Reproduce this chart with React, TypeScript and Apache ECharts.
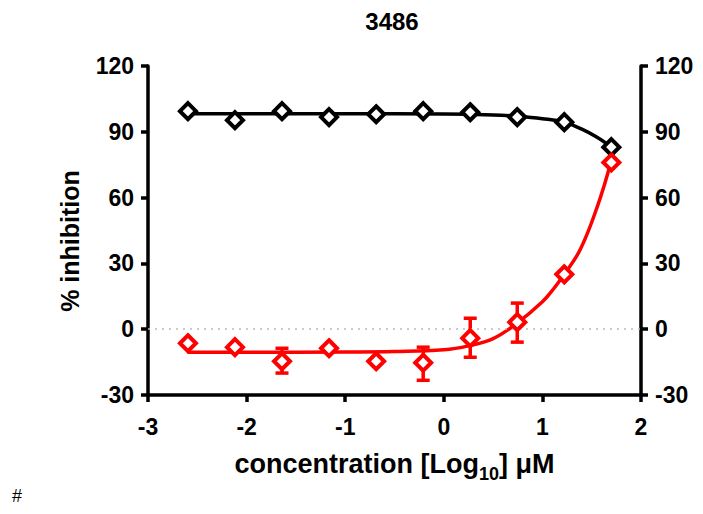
import React, { useEffect, useRef } from "react";
import * as echarts from "echarts";

const title = "3486";
const logConc = [-2.595, -2.118, -1.641, -1.164, -0.686, -0.209, 0.268, 0.745, 1.222, 1.699];
const blackValues = [99.4, 95.3, 99.4, 96.7, 98.0, 99.4, 98.9, 96.7, 94.4, 83.0];
const redValues = [-6.4, -8.2, -14.6, -8.7, -14.6, -15.3, -4.1, 3.2, 25.0, 76.0];
// error bars [x, low, high]
const redErrors: [number, number, number][] = [
  [-1.641, -20.0, -8.7],
  [-0.209, -23.3, -8.2],
  [0.268, -12.8, 5.0],
  [0.745, -5.9, 11.9],
];
// fitted curves
const blackCurveX = [-2.6, -2.0, -1.0, 0.0, 0.5, 0.75, 1.0, 1.22, 1.4, 1.55, 1.7];
const blackCurveY = [98.2, 98.2, 98.2, 98.1, 97.7, 97.1, 96.0, 94.4, 91.2, 87.6, 83.0];
const redCurveX = [-2.6, -2.0, -1.0, -0.5, 0.0, 0.25, 0.5, 0.75, 1.0, 1.11, 1.22, 1.35, 1.45, 1.55, 1.63, 1.7];
const redCurveY = [-10.5, -10.5, -10.4, -10.2, -9.4, -7.6, -4.3, 3.0, 12.5, 18.2, 25.0, 33.5, 43.0, 55.0, 66.0, 77.0];
const xTicks = { min: -3, max: 2, interval: 1 };
const yTicks = { min: -30, max: 120, interval: 30 };

const FONT = "'Liberation Sans', Arial, sans-serif";

export default function App() {
  const ref = useRef<HTMLDivElement>(null);
  useEffect(() => {
    if (!ref.current) return;
    const chart = echarts.init(ref.current, null, { renderer: "svg" });
    const axisCommon = {
      axisLine: { show: true, onZero: false, lineStyle: { color: "#000", width: 3.5 } },
      axisTick: { show: true, length: 7, lineStyle: { color: "#000", width: 3.5 } },
      splitLine: { show: false },
      axisLabel: { color: "#000", fontSize: 23, fontWeight: "bold", fontFamily: FONT },
    };
    const yAxisBase = {
      type: "value",
      min: yTicks.min,
      max: yTicks.max,
      interval: yTicks.interval,
      ...axisCommon,
    };
    const mkDiamond = (color: string) => ({
      symbol: "diamond",
      symbolSize: 16,
      itemStyle: { color: "#fff", borderColor: color, borderWidth: 4, opacity: 1 },
    });
    const option: any = {
      animation: false,
      title: {
        text: title,
        left: 384,
        top: 0,
        padding: 0,
        textAlign: "center",
        textStyle: { color: "#000", fontSize: 24, fontWeight: "bold", fontFamily: FONT, lineHeight: 26 },
      },
      grid: { left: 140, right: 70, top: 58, bottom: 127, containLabel: false },
      xAxis: {
        type: "value",
        min: xTicks.min,
        max: xTicks.max,
        interval: xTicks.interval,
        ...axisCommon,
        axisLabel: { ...axisCommon.axisLabel, margin: 20 },
        name: "{a|concentration [Log}{s|10}{a|] μM}",
        nameLocation: "middle",
        nameGap: 54,
        nameTextStyle: {
          rich: {
            a: { fontSize: 27, fontWeight: "bold", fontFamily: FONT, color: "#000", lineHeight: 28, verticalAlign: "bottom" },
            s: { fontSize: 18, fontWeight: "bold", fontFamily: FONT, color: "#000", lineHeight: 28, verticalAlign: "bottom", padding: [0, 0, -6, 0] },
          },
        },
      },
      yAxis: [
        {
          ...yAxisBase,
          position: "left",
          axisLabel: { ...axisCommon.axisLabel, margin: 14 },
        },
        {
          ...yAxisBase,
          position: "right",
          axisLabel: { ...axisCommon.axisLabel, margin: 14 },
        },
      ],
      graphic: [
        {
          type: "text",
          x: 62,
          y: 233,
          rotation: Math.PI / 2,
          style: {
            text: "% inhibition",
            fontSize: 25,
            fontWeight: "bold",
            fontFamily: FONT,
            fill: "#000",
            align: "center",
            verticalAlign: "middle",
          },
        },
        {
          type: "text",
          left: 4,
          top: 479,
          style: { text: "#", fontSize: 18, fill: "#000", fontFamily: FONT },
        },
      ],
      series: [
        {
          type: "line",
          yAxisIndex: 0,
          data: [],
          markLine: {
            silent: true,
            symbol: "none",
            label: { show: false },
            lineStyle: { color: "#bbb", type: [2, 5], width: 1.5 },
            data: [{ yAxis: 0 }],
          },
        },
        {
          type: "line",
          data: blackCurveX.map((x, i) => [x, blackCurveY[i]]),
          showSymbol: false,
          smooth: 0.4,
          lineStyle: { color: "#000", width: 3.5 },
          z: 2,
        },
        {
          type: "line",
          data: redCurveX.map((x, i) => [x, redCurveY[i]]),
          showSymbol: false,
          smooth: 0.4,
          lineStyle: { color: "#ff0000", width: 3.5 },
          z: 2,
        },
        {
          type: "custom",
          data: redErrors,
          z: 3,
          renderItem: (params: any, api: any) => {
            const x = api.value(0);
            const lo = api.coord([x, api.value(1)]);
            const hi = api.coord([x, api.value(2)]);
            const w = 6.5;
            const st = { stroke: "#ff0000", lineWidth: 3.5 };
            return {
              type: "group",
              children: [
                { type: "line", shape: { x1: lo[0], y1: lo[1], x2: hi[0], y2: hi[1] }, style: st },
                { type: "line", shape: { x1: lo[0] - w, y1: lo[1], x2: lo[0] + w, y2: lo[1] }, style: st },
                { type: "line", shape: { x1: hi[0] - w, y1: hi[1], x2: hi[0] + w, y2: hi[1] }, style: st },
              ],
            };
          },
        },
        {
          type: "scatter",
          data: logConc.map((x, i) => [x, blackValues[i]]),
          ...mkDiamond("#000"),
          z: 4,
        },
        {
          type: "scatter",
          data: logConc.map((x, i) => [x, redValues[i]]),
          ...mkDiamond("#ff0000"),
          z: 5,
        },
      ],
    };
    chart.setOption(option);
    return () => chart.dispose();
  }, []);
  return <div ref={ref} style={{ width: 703, height: 514 }} />;
}
